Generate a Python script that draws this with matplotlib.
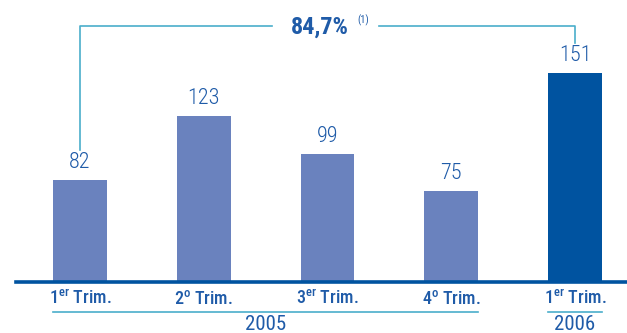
import matplotlib
matplotlib.use("Agg")
import matplotlib.pyplot as plt
import matplotlib.transforms as mtransforms
from matplotlib import font_manager

# data
quarters = ["1$^{\\mathrm{er}}$ Trim.", "2$^{\\mathrm{o}}$ Trim.", "3$^{\\mathrm{er}}$ Trim.",
            "4$^{\\mathrm{o}}$ Trim.", "1$^{\\mathrm{er}}$ Trim."]
values = [82, 123, 99, 75, 151]
years = ["2005", "2006"]
year_groups = [(0, 3), (4, 4)]
growth_label = "84,7%"
note_label = "(1)"

# condensed font, if one is there
names = {f.name for f in font_manager.fontManager.ttflist}
font = "Liberation Sans"
for cand in ["Roboto Condensed", "Barlow Condensed", "Archivo Narrow", "Liberation Sans Narrow"]:
    if cand in names:
        font = cand
        break
plt.rcParams["font.family"] = [font, "DejaVu Sans"]
plt.rcParams["mathtext.fontset"] = "custom"
plt.rcParams["mathtext.rm"] = font + ":medium"

light = "#6a82be"
dark = "#0053a0"
teal = "#4aaecb"
txt = "#1f5ba8"

W, H = 627, 333
fig = plt.figure(figsize=(W / 100, H / 100), dpi=100)
ax = fig.add_axes([16 / W, 1 - 282 / H, 1 - 16 / W, 282 / H])

x = list(range(len(values)))
colors = [light] * 4 + [dark]
ax.bar(x, values, width=0.436, color=colors, zorder=2)
ax.set_xlim(-0.517, 4.42)
ax.set_ylim(16.4, 197.7)

for s in ["top", "right", "left"]:
    ax.spines[s].set_visible(False)
ax.spines["bottom"].set_color(dark)
ax.spines["bottom"].set_linewidth(2.6)
ax.spines["bottom"].set_zorder(3)
ax.set_xticks([])
ax.set_yticks([])

for xi, v in zip(x, values):
    ax.annotate(str(v), (xi, v), xytext=(0, 5), textcoords="offset points",
                ha="center", va="bottom", fontsize=16, fontweight="light", color=txt)

# labels below the axis (data x, figure y)
tr = mtransforms.blended_transform_factory(ax.transData, fig.transFigure)
def fy(py):
    return 1 - py / H

for xi, q in zip(x, quarters):
    ax.text(xi, fy(299), q, transform=tr, ha="center", va="center",
            fontsize=13, fontweight="medium", color=txt, clip_on=False)

hw = 0.218
for (a, b), yr in zip(year_groups, years):
    ax.plot([a - hw, b + hw], [fy(312), fy(312)], transform=tr, color=teal,
            lw=1.2, clip_on=False)
    ax.text((a + b) / 2, fy(324), yr, transform=tr, ha="center", va="center",
            fontsize=15, color=txt, clip_on=False)

# growth bracket between first and last bar
x0, x1 = x[0], x[-1]
ax.plot([x0, x0, 1.55], [fy(150), fy(26), fy(26)], transform=tr, color=teal,
        lw=1.2, clip_on=False)
ax.plot([2.42, x1, x1], [fy(26), fy(26), fy(43)], transform=tr, color=teal,
        lw=1.2, clip_on=False)
ax.text(1.94, fy(27), growth_label, transform=tr, ha="center", va="center",
        fontsize=17.5, fontweight="bold", color=txt, clip_on=False)
ax.text(2.29, fy(20), note_label, transform=tr, ha="center", va="center",
        fontsize=7.5, color=txt, clip_on=False)

fig.savefig("out.png", dpi=100)
